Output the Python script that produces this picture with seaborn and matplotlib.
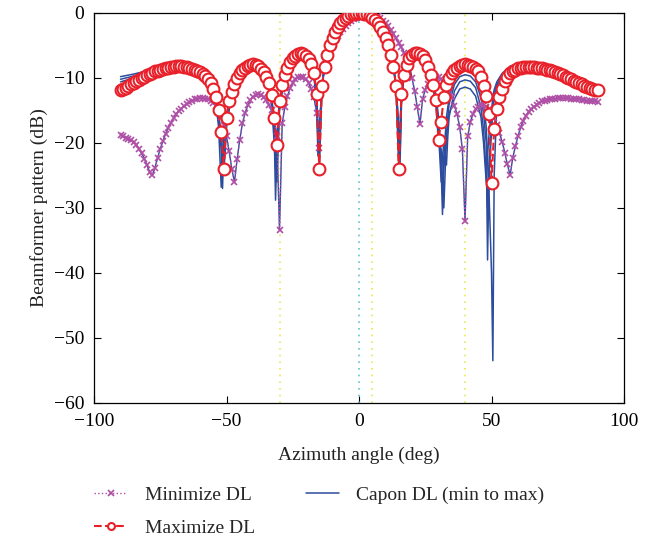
import numpy as np
import matplotlib
matplotlib.use("Agg")
import matplotlib.pyplot as plt
from matplotlib.lines import Line2D
import seaborn as sns

sns.set_style("ticks")
plt.rcParams['font.family'] = ['Liberation Serif', 'DejaVu Serif']

# azimuth grid (deg) for the two optimised patterns
deg = list(range(-90, 91))

# Maximize DL pattern (dB), -90 .. 90 step 1
max_dl = [
    -11.8, -11.7, -11.5, -11.3, -11.0, -10.8, -10.5, -10.3, -10.0, -9.8,
    -9.6, -9.4, -9.2, -9.0, -8.9, -8.7, -8.6, -8.5, -8.4, -8.3,
    -8.3, -8.2, -8.2, -8.2, -8.3, -8.3, -8.4, -8.6, -8.7, -8.9,
    -9.1, -9.4, -9.7, -10.2, -10.8, -11.7, -13.0, -15.0, -18.3, -24.0,
    -16.2, -13.6, -12.1, -10.9, -10.0, -9.3, -8.8, -8.4, -8.1, -8.0,
    -7.9, -8.0, -8.2, -8.6, -9.1, -9.8, -10.8, -12.6, -16.2, -20.3,
    -13.6, -11.1, -9.5, -8.4, -7.6, -7.0, -6.6, -6.3, -6.2, -6.3,
    -6.6, -7.1, -7.9, -9.3, -12.4, -24.0, -11.3, -8.3, -6.4, -5.0,
    -3.9, -3.0, -2.2, -1.6, -1.1, -0.7, -0.4, -0.2, -0.1, 0.0,
    0.0, 0.0, -0.1, -0.2, -0.4, -0.7, -1.1, -1.6, -2.2, -3.0,
    -3.9, -5.0, -6.4, -8.3, -11.3, -24.0, -12.4, -9.5, -8.0, -7.0,
    -6.5, -6.2, -6.2, -6.3, -6.6, -7.2, -8.3, -9.5, -11.1, -13.4,
    -19.5, -16.7, -12.9, -11.1, -10.0, -9.3, -8.8, -8.4, -8.1, -8.0,
    -7.9, -8.0, -8.1, -8.3, -8.6, -9.0, -9.9, -11.2, -12.8, -15.5,
    -26.1, -17.8, -14.7, -12.9, -11.7, -10.5, -9.8, -9.2, -8.9, -8.7,
    -8.5, -8.4, -8.3, -8.3, -8.3, -8.3, -8.3, -8.4, -8.4, -8.5,
    -8.6, -8.7, -8.8, -8.9, -9.1, -9.2, -9.4, -9.6, -9.8, -10.0,
    -10.2, -10.4, -10.6, -10.8, -11.0, -11.2, -11.4, -11.5, -11.7, -11.8,
    -11.9,
]

# Minimize DL pattern (dB), -90 .. 90 step 1
min_dl = [
    -18.8, -19.0, -19.2, -19.4, -19.6, -19.9, -20.3, -20.9, -21.6, -22.4,
    -23.4, -24.5, -25.0, -23.8, -22.3, -20.9, -19.7, -18.6, -17.7, -16.9,
    -16.2, -15.6, -15.1, -14.7, -14.3, -14.0, -13.7, -13.5, -13.3, -13.2,
    -13.1, -13.1, -13.2, -13.3, -13.5, -13.8, -14.3, -15.0, -16.0, -17.3,
    -19.0, -21.3, -24.0, -26.0, -22.5, -19.5, -17.0, -15.4, -14.2, -13.4,
    -12.9, -12.6, -12.5, -12.6, -12.9, -13.4, -14.1, -15.0, -16.5, -19.0,
    -33.4, -17.0, -14.5, -12.8, -11.6, -10.8, -10.2, -9.9, -9.8, -9.9,
    -10.2, -10.8, -11.7, -13.0, -15.4, -20.7, -11.0, -7.8, -6.3, -5.4,
    -4.7, -4.1, -3.6, -3.0, -2.5, -2.0, -1.6, -1.2, -0.9, -0.7,
    -0.5, -0.3, -0.15, -0.05, 0.0, 0.0, -0.1, -0.4, -0.8, -1.2,
    -1.6, -2.0, -2.6, -3.2, -3.9, -4.6, -5.3, -6.1, -7.0, -8.0,
    -10.0, -12.0, -14.5, -17.1, -13.2, -11.8, -10.9, -10.4, -10.0, -9.9,
    -9.9, -10.2, -10.7, -11.3, -12.1, -12.9, -14.3, -15.6, -17.5, -21.0,
    -32.0, -19.0, -16.8, -15.5, -14.8, -14.4, -14.2, -14.2, -14.4, -14.8,
    -15.4, -16.2, -17.2, -18.5, -19.8, -21.5, -23.3, -25.0, -22.3, -20.5,
    -18.9, -17.6, -16.6, -15.8, -15.2, -14.8, -14.4, -14.1, -13.8, -13.6,
    -13.5, -13.4, -13.3, -13.2, -13.2, -13.1, -13.1, -13.1, -13.1, -13.1,
    -13.2, -13.2, -13.3, -13.3, -13.4, -13.4, -13.5, -13.5, -13.6, -13.6,
    -13.7,
]

# Capon patterns for several diagonal loading levels
capon_deg = [
    -90, -85, -80, -75, -70, -65, -60, -57, -55, -54,
    -53, -52, -51.5, -51, -50, -48, -46, -43, -40, -37,
    -35, -34, -33, -32, -31.5, -31, -30, -28, -25, -22,
    -19, -17, -16, -15.5, -15, -14, -13, -11, -8, -5,
    -2, 0, 2, 5, 8, 11, 13, 14, 15, 15.5,
    16, 17, 19, 22, 25, 27, 29, 30, 31, 31.5,
    32, 33, 33.5, 34, 36, 38, 40, 42, 44, 46,
    47, 48, 48.5, 49, 50, 50.5, 51, 52, 54, 57,
    60, 65, 70, 75, 80, 85, 90,
]
capon_a = [
    -9.8, -9.4, -8.9, -8.4, -8.2, -8.3, -9.1, -10.2, -11.8, -13.3,
    -15.8, -21.0, -27.0, -20.0, -16.0, -12.0, -10.0, -8.4, -7.9, -8.6,
    -9.8, -11.0, -13.2, -17.5, -22.0, -26.0, -14.0, -9.5, -7.0, -6.2,
    -7.1, -9.5, -13.0, -17.0, -22.5, -11.5, -8.3, -5.0, -2.2, -0.7,
    -0.1, 0.0, -0.1, -0.7, -2.2, -5.0, -8.3, -11.5, -22.0, -17.5,
    -13.0, -9.5, -7.0, -6.2, -7.3, -9.0, -12.5, -16.0, -24.0, -31.0,
    -22.0, -16.0, -14.5, -13.0, -10.2, -9.1, -8.8, -9.0, -9.8, -12.0,
    -14.0, -17.5, -22.0, -27.0, -40.0, -53.5, -25.0, -14.0, -10.2, -8.6,
    -8.2, -8.3, -8.8, -9.6, -10.6, -11.6, -12.2,
]
capon_b = [
    -10.2, -9.7, -9.0, -8.5, -8.2, -8.3, -9.1, -10.3, -12.0, -13.6,
    -16.5, -20.5, -24.0, -23.5, -17.0, -12.2, -10.0, -8.4, -8.0, -8.6,
    -9.8, -11.2, -13.6, -18.5, -28.8, -21.0, -13.5, -9.5, -7.0, -6.2,
    -7.1, -9.6, -13.5, -20.0, -19.0, -11.2, -8.3, -5.0, -2.2, -0.7,
    -0.1, 0.0, -0.1, -0.7, -2.2, -5.0, -8.3, -11.2, -18.5, -21.5,
    -13.5, -9.5, -7.0, -6.2, -7.4, -9.2, -13.0, -17.0, -22.0, -26.0,
    -30.0, -19.0, -16.0, -14.0, -11.0, -9.8, -9.5, -9.7, -10.6, -13.0,
    -15.5, -20.0, -38.0, -26.0, -18.0, -15.0, -13.0, -11.2, -9.6, -8.4,
    -8.1, -8.3, -8.8, -9.6, -10.7, -11.7, -12.3,
]
capon_c = [
    -10.6, -10.0, -9.2, -8.6, -8.3, -8.3, -9.1, -10.2, -11.7, -13.0,
    -15.2, -19.0, -21.5, -24.5, -17.5, -12.4, -10.0, -8.4, -8.0, -8.6,
    -9.8, -10.9, -12.8, -16.5, -19.5, -24.5, -15.0, -9.5, -7.0, -6.2,
    -7.1, -9.4, -12.8, -18.0, -24.0, -11.8, -8.3, -5.0, -2.2, -0.7,
    -0.1, 0.0, -0.1, -0.7, -2.2, -5.0, -8.3, -11.8, -24.0, -18.0,
    -12.6, -9.5, -7.0, -6.2, -7.5, -9.5, -13.5, -18.5, -26.0, -22.0,
    -20.0, -23.4, -19.0, -16.0, -12.0, -10.6, -10.3, -10.5, -11.5, -14.5,
    -18.0, -25.0, -30.0, -24.0, -17.0, -14.0, -12.5, -11.0, -9.5, -8.3,
    -8.1, -8.2, -8.8, -9.7, -10.8, -11.8, -12.4,
]
capon_d = [
    -11.1, -10.4, -9.4, -8.7, -8.3, -8.3, -9.1, -10.4, -12.2, -14.0,
    -17.5, -26.8, -22.0, -18.0, -15.5, -11.9, -10.0, -8.4, -8.1, -8.6,
    -9.8, -11.4, -14.0, -20.0, -24.0, -19.0, -13.2, -9.5, -7.0, -6.2,
    -7.1, -9.8, -14.0, -22.0, -18.0, -11.0, -8.3, -5.0, -2.2, -0.7,
    -0.1, 0.0, -0.1, -0.7, -2.2, -5.0, -8.3, -11.0, -17.5, -23.0,
    -14.2, -9.5, -7.0, -6.2, -7.6, -9.8, -14.0, -20.0, -21.0, -28.0,
    -24.0, -19.0, -17.0, -15.5, -13.2, -11.7, -11.4, -11.7, -12.8, -16.0,
    -20.0, -26.0, -22.0, -19.0, -15.0, -13.0, -11.8, -10.6, -9.3, -8.2,
    -8.0, -8.2, -8.8, -9.7, -10.8, -11.9, -12.5,
]

# look directions: interferers (yellow) and the desired source (cyan)
interf_deg = [-30, 5, 40]
source_deg = [0]

c_min = '#b04fa6'
c_max = '#e8202a'
c_cap = '#2c4c9e'

fig = plt.figure(figsize=(6.52, 5.42), dpi=100)
ax = fig.add_axes([0.1442, 0.2565, 0.8129, 0.7196])

for a in interf_deg:
    ax.axvline(a, color='#e8e85a', ls=(0, (1, 3)), lw=1.2, zorder=1)
for a in source_deg:
    ax.axvline(a, color='#5cc6cc', ls=(0, (1, 3)), lw=1.2, zorder=1)

for vals in [capon_a, capon_b, capon_c, capon_d]:
    sns.lineplot(x=capon_deg, y=vals, ax=ax, color=c_cap, lw=1.1,
                 estimator=None, sort=False, legend=False, zorder=2)
sns.lineplot(x=deg, y=min_dl, ax=ax, color=c_cap, lw=1.0,
             estimator=None, sort=False, legend=False, zorder=2)

sns.lineplot(x=deg, y=min_dl, ax=ax, color=c_min, ls=':', lw=1.0,
             marker='x', markersize=4.5, markeredgecolor=c_min,
             markeredgewidth=1.2, estimator=None, sort=False,
             legend=False, zorder=3)
sns.lineplot(x=deg, y=max_dl, ax=ax, color=c_max, ls='--', lw=1.5,
             marker='o', markersize=8.5, markerfacecolor='white',
             markeredgecolor=c_max, markeredgewidth=1.5,
             estimator=None, sort=False, legend=False, zorder=4)

ax.set_xlim(-100, 100)
ax.set_ylim(-60, 0)
ax.set_xticks([-100, -50, 0, 50, 100])
ax.set_yticks([-60, -50, -40, -30, -20, -10, 0])
ax.tick_params(direction='in', top=True, right=True, length=5,
               width=0.8, labelsize=14, colors='black', pad=7)
for s in ax.spines.values():
    s.set_visible(True)
    s.set_linewidth(0.9)
    s.set_color('black')
ax.set_xlabel('Azimuth angle (deg)', fontsize=14, color='#222222',
              labelpad=12)
ax.set_ylabel('Beamformer pattern (dB)', fontsize=14, color='#222222',
              labelpad=4)

handles = [
    Line2D([], [], color=c_min, ls=':', lw=1.0, marker='x', ms=4.5,
           mew=1.2),
    Line2D([], [], color=c_max, ls='--', lw=1.5, marker='o', ms=5,
           mfc='white', mew=1.5),
    Line2D([], [], color=c_cap, lw=1.1),
]
labels = ['Minimize DL', 'Maximize DL', 'Capon DL (min to max)']
fig.legend(handles, labels, loc='upper left', ncol=2, frameon=False,
           bbox_to_anchor=(0.118, 0.135), fontsize=14,
           handlelength=1.7, handletextpad=0.9, columnspacing=2.6,
           labelspacing=0.8)

fig.savefig('out.png', dpi=100)
